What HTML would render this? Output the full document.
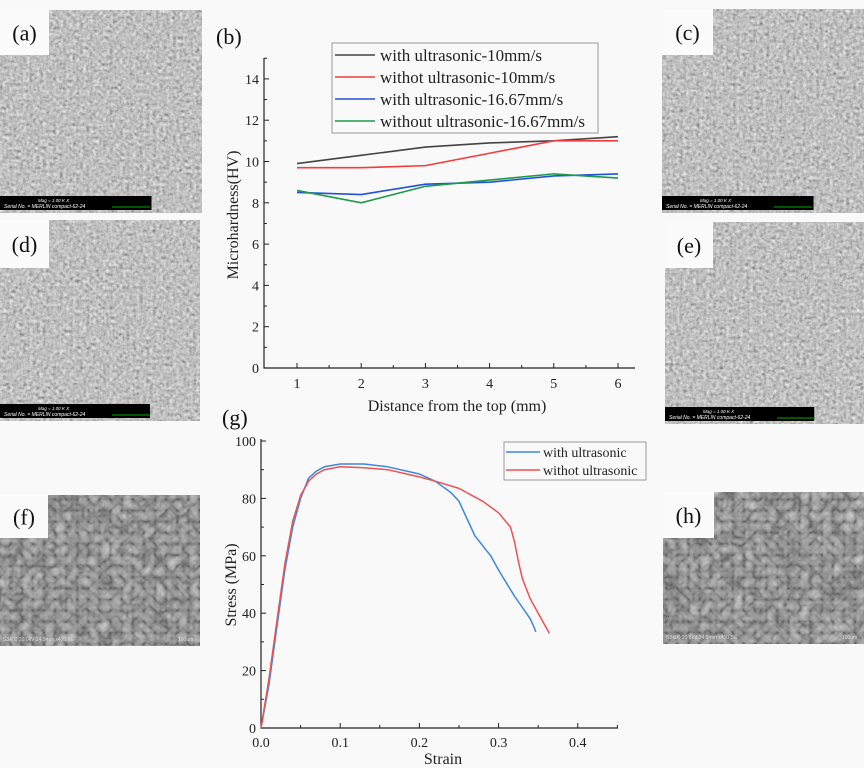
<!DOCTYPE html>
<html><head><meta charset="utf-8">
<style>
body{margin:0;background:#f9f9f9;font-family:"Liberation Serif",serif;}
svg{display:block}
</style></head>
<body>
<svg id="fig" width="864" height="768" viewBox="0 0 864 768" xmlns="http://www.w3.org/2000/svg">
<defs>
<filter id="semA" x="0" y="0" width="100%" height="100%">
<feTurbulence type="fractalNoise" baseFrequency="0.3" numOctaves="3" seed="3" result="n"/>
<feColorMatrix type="matrix" values="0.4 0.4 0.4 0 -0.08 0.4 0.4 0.4 0 -0.08 0.4 0.4 0.4 0 -0.08 0 0 0 0 1"/>
</filter>
<filter id="semB" x="0" y="0" width="100%" height="100%">
<feTurbulence type="turbulence" baseFrequency="0.09" numOctaves="2" seed="7" result="n"/>
<feColorMatrix type="matrix" values="0.28 0.28 0.28 0 0.08 0.28 0.28 0.28 0 0.08 0.28 0.28 0.28 0 0.08 0 0 0 0 1"/>
</filter>
</defs>
<rect width="864" height="768" fill="#f9f9f9"/>
<g id="sem" font-family="Liberation Serif, serif"></g>
<g id="chartB"></g>
<g id="chartG"></g>
</svg>
<script>
// ---------- Chart (b) data ----------
const bCategories=[1,2,3,4,5,6];
const bWith10=[9.9,10.3,10.7,10.9,11.0,11.2];
const bWithout10=[9.7,9.7,9.8,10.4,11.0,11.0];
const bWith1667=[8.5,8.4,8.9,9.0,9.3,9.4];
const bWithout1667=[8.6,8.0,8.8,9.1,9.4,9.2];
const bYTicks=[0,2,4,6,8,10,12,14];
const bSeriesNames=["with ultrasonic-10mm/s","withot ultrasonic-10mm/s","with ultrasonic-16.67mm/s","without ultrasonic-16.67mm/s"];
// ---------- Chart (g) data ----------
const gBlueStrain=[0,0.01,0.02,0.03,0.04,0.05,0.06,0.07,0.08,0.1,0.13,0.16,0.2,0.22,0.24,0.25,0.26,0.27,0.29,0.3,0.32,0.33,0.34,0.345,0.347];
const gBlueStress=[0,15,35,55,70,80,87,89.5,91,92,92,91,88.5,86,82,79,73,67,60,55,46,42,38,35,33.5];
const gRedStrain=[0,0.01,0.02,0.03,0.04,0.05,0.06,0.07,0.08,0.1,0.13,0.16,0.2,0.22,0.25,0.28,0.3,0.315,0.32,0.325,0.33,0.34,0.35,0.36,0.364];
const gRedStress=[0,17,37,57,72,81,86,88.5,90,91,90.7,90,87.5,86,83.5,79,75,70,65,58,52,45,40,35,33];
const gXTicks=[0,0.1,0.2,0.3,0.4];
const gYTicks=[0,20,40,60,80,100];
const gSeriesNames=["with ultrasonic","withot ultrasonic"];

const NS="http://www.w3.org/2000/svg";
function mk(tag,attrs,parent,text){const e=document.createElementNS(NS,tag);for(const k in attrs)e.setAttribute(k,attrs[k]);if(text!==undefined)e.textContent=text;parent.appendChild(e);return e;}

// ---------- SEM images ----------
const sem=document.getElementById('sem');
const panels=[["a",0,10,202,203,49,45,"semA",true],["d",0,220,200,201,49,48,"semA",true],["c",662,9,202,204,51,46,"semA",true],["e",665,222,199,202,48,46,"semA",true],["f",0,495,200,151,48,43,"semB",false],["h",663,492,201,152,51,46,"semB",false]];
panels.forEach(p=>{
  const [lab,x,y,w,h,lw,lh,f,bar]=p;
  const g=mk('g',{},sem);
  
  
  mk('rect',{x:x,y:y,width:w,height:h,fill:'#888',filter:'url(#'+f+')'},g);
  if(bar){
    const b=mk('rect',{x:x,y:y+h-17,width:w*0.75,height:14,fill:'#000'},g);
    
    
    mk('text',{x:x+4,y:y+h-5,fill:'#fff','font-size':5,'font-family':'Liberation Sans, sans-serif','font-style':'italic'},g,'Serial No. = MERLIN compact-62-24');
    mk('text',{x:x+38,y:y+h-11,fill:'#fff','font-size':4.5,'font-family':'Liberation Sans, sans-serif','font-style':'italic'},g,'Mag =   1.00 K X');
    mk('line',{x1:x+112,y1:y+h-6,x2:x+150,y2:y+h-6,stroke:'#0a0',"stroke-width":1},g);
  }else{
    mk('text',{x:x+3,y:y+h-5,fill:'#ddd','font-size':5,'font-family':'Liberation Sans, sans-serif'},g,'S3400 20.0kV 24.5mm x400 SE');
    mk('text',{x:x+w-22,y:y+h-5,fill:'#ddd','font-size':5,'font-family':'Liberation Sans, sans-serif'},g,'100um');
  }
  mk('rect',{x:x,y:y,width:lw,height:lh,fill:'#fbfbfb'},g);
  const t=mk('text',{x:x+lw/2,y:y+lh/2+8,'text-anchor':'middle','font-size':22,fill:'#111'},g,'('+lab+')');
  
  
});
const lb=mk('text',{x:216,y:44,'font-size':22,fill:'#111'},sem,'(b)');


const lg=mk('text',{x:222,y:425,'font-size':22,fill:'#111'},sem,'(g)');



// ---------- Chart (b) ----------
(function(){
  const g=document.getElementById('chartB');
  
  
  const x0=264,y0=368,xEnd=635,yTop=58;
  const xs=v=>297+(v-1)*64.2;
  const ys=v=>368-v*20.65;
  const ax=mk('path',{d:`M${x0} ${yTop}V${y0}H${xEnd}`,stroke:'#222',fill:'none','stroke-width':1.2},g);
  
  
  bYTicks.forEach(v=>{
    mk('line',{x1:x0,x2:x0+5,y1:ys(v),y2:ys(v),stroke:'#222'},g);
    mk('line',{x1:x0,x2:x0+3,y1:ys(v+1),y2:ys(v+1),stroke:'#222'},g);
    const t=mk('text',{x:x0-5,y:ys(v)+5,'text-anchor':'end','font-size':14,fill:'#222'},g,String(v));
    
    
  });
  bCategories.forEach(v=>{
    mk('line',{x1:xs(v),x2:xs(v),y1:y0,y2:y0-5,stroke:'#222'},g);
    if(v<6)mk('line',{x1:xs(v+0.5),x2:xs(v+0.5),y1:y0,y2:y0-3,stroke:'#222'},g);
    const t=mk('text',{x:xs(v),y:y0+20,'text-anchor':'middle','font-size':14,fill:'#222'},g,String(v));
    
    
  });
  const xt=mk('text',{x:457,y:411,'text-anchor':'middle','font-size':16,fill:'#222'},g,'Distance from the top (mm)');
  
  
  const yt=mk('text',{x:0,y:0,'text-anchor':'middle','font-size':16,fill:'#222',transform:'translate(238,215) rotate(-90)'},g,'Microhardness(HV)');
  
  
  const series=[bWith10,bWithout10,bWith1667,bWithout1667];
  const cols=['#444','#f03c3c','#1f52d6','#1e9a4a'];
  series.forEach((s,i)=>{
    const d=s.map((v,j)=>(j?'L':'M')+xs(bCategories[j])+' '+ys(v)).join('');
    const p=mk('path',{d:d,stroke:cols[i],fill:'none','stroke-width':1.6},g);
    
    
  });
  const lgd=mk('g',{},g);
  
  
  mk('rect',{x:332,y:43,width:266,height:90,fill:'none',stroke:'#999'},lgd);
  bSeriesNames.forEach((n,i)=>{
    const y=55+i*22;
    mk('line',{x1:335,x2:375,y1:y,y2:y,stroke:cols[i],'stroke-width':1.6},lgd);
    const t=mk('text',{x:380,y:y+6,'font-size':17,fill:'#222'},lgd,n);
    
    
  });
})();

// ---------- Chart (g) ----------
(function(){
  const g=document.getElementById('chartG');
  
  
  const x0=261,y0=728,xEnd=618,yTop=439;
  const xs=v=>261+v*792;
  const ys=v=>728-v*2.87;
  const ax=mk('path',{d:`M${x0} ${yTop}V${y0}H${xEnd}`,stroke:'#222',fill:'none','stroke-width':1.2},g);
  
  
  gYTicks.forEach(v=>{
    mk('line',{x1:x0,x2:x0+5,y1:ys(v),y2:ys(v),stroke:'#222'},g);
    if(v<100)mk('line',{x1:x0,x2:x0+3,y1:ys(v+10),y2:ys(v+10),stroke:'#222'},g);
    const t=mk('text',{x:x0-5,y:ys(v)+5,'text-anchor':'end','font-size':14,fill:'#222'},g,String(v));
    
    
  });
  gXTicks.forEach(v=>{
    mk('line',{x1:xs(v),x2:xs(v),y1:y0,y2:y0-5,stroke:'#222'},g);
    mk('line',{x1:xs(v+0.05),x2:xs(v+0.05),y1:y0,y2:y0-3,stroke:'#222'},g);
    const t=mk('text',{x:xs(v),y:y0+19,'text-anchor':'middle','font-size':14,fill:'#222'},g,v.toFixed(1));
    
    
  });
  const xt=mk('text',{x:443,y:764,'text-anchor':'middle','font-size':16,fill:'#222'},g,'Strain');
  
  
  const yt=mk('text',{x:0,y:0,'text-anchor':'middle','font-size':16,fill:'#222',transform:'translate(236,585) rotate(-90)'},g,'Stress (MPa)');
  
  
  const cols=['#3a87e0','#f05050'];
  [[gBlueStrain,gBlueStress],[gRedStrain,gRedStress]].forEach((s,i)=>{
    const d=s[0].map((v,j)=>(j?'L':'M')+xs(v).toFixed(1)+' '+ys(s[1][j]).toFixed(1)).join('');
    const p=mk('path',{d:d,stroke:cols[i],fill:'none','stroke-width':1.5,'stroke-linejoin':'round'},g);
    
    
  });
  const lgd=mk('g',{},g);
  
  
  mk('rect',{x:504,y:442,width:142,height:38,fill:'none',stroke:'#999'},lgd);
  gSeriesNames.forEach((n,i)=>{
    const y=452+i*18;
    mk('line',{x1:506,x2:540,y1:y,y2:y,stroke:cols[i],'stroke-width':1.5},lgd);
    const t=mk('text',{x:543,y:y+5,'font-size':14,fill:'#222'},lgd,n);
    
    
  });
})();
</script>
</body></html>
